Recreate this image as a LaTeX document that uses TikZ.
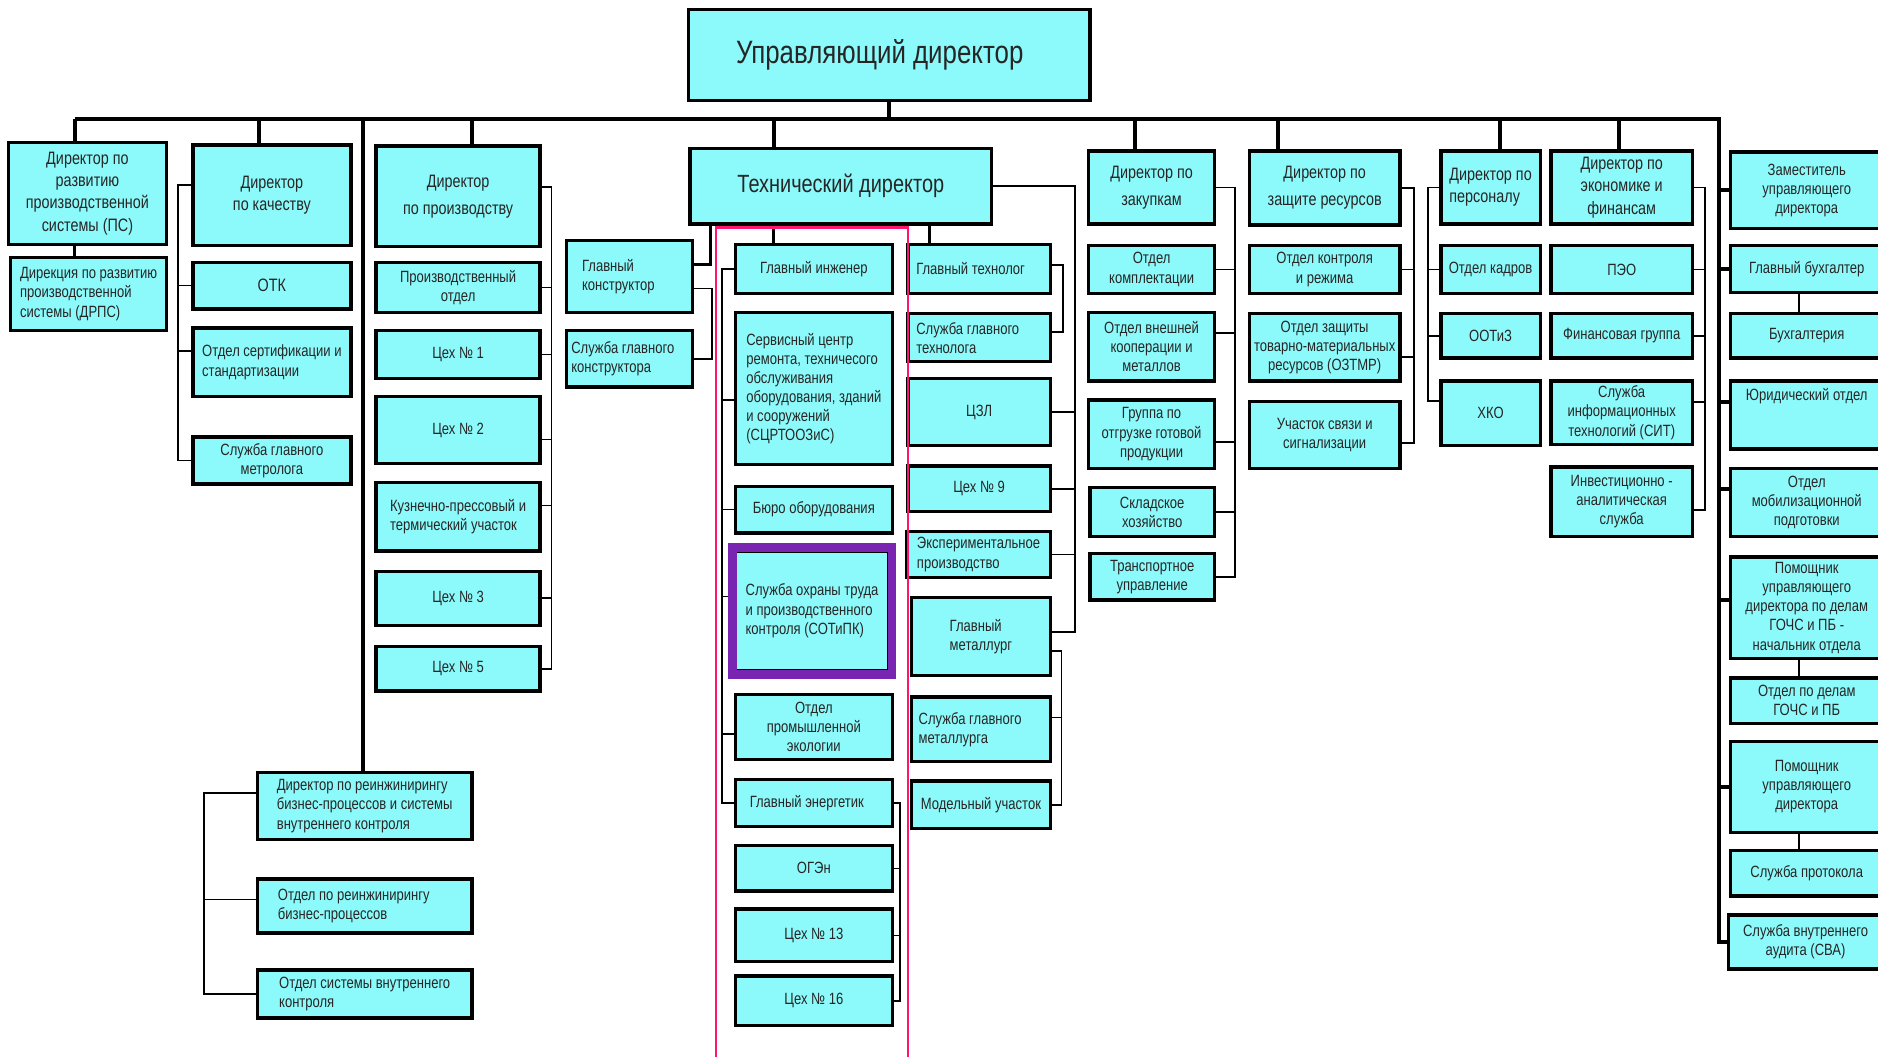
\documentclass[tikz,border=0pt]{standalone}
\usepackage{fontspec}
\newfontfamily\orgfont{Liberation Sans}[FakeStretch=0.8]
\newcommand{\orgsmall}{\orgfont\fontsize{6.8}{8}\selectfont}
\newcommand{\orgmid}{\orgfont\fontsize{7.5}{9.3}\selectfont}
\newcommand{\orgtech}{\orgfont\fontsize{10.4}{12}\selectfont}
\newcommand{\orghead}{\orgfont\fontsize{13.5}{16}\selectfont}
\definecolor{unitcyan}{RGB}{140,250,250}
\definecolor{framepink}{RGB}{255,20,110}
\definecolor{framepurple}{RGB}{122,36,178}
\tikzset{
  unit/.style={draw=black, fill=unitcyan, line width=1.4pt, inner sep=1pt,
    align=center, text=black!85, font=\orgsmall},
  chief/.style={font=\orgmid},
  flush/.style={align=flush left, text width={(\unitw-2*#1)*0.5pt}},
  bus/.style={line width=1.7pt},
  link/.style={line width=1.1pt},
  branch/.style={line width=0.7pt},
}
% box from (x1,y1) to (x2,y2)
\newcommand{\unitat}[7][]{%
  \def\unitw{(#5-#3)}%
  \node[unit, minimum width={(#5-#3)*0.5pt}, minimum height={(#6-#4)*0.5pt}, #1]
    (#2) at ({(#3+#5)/2},{(#4+#6)/2}) {#7};}
\begin{document}
\begin{tikzpicture}[x=0.5pt,y=-0.5pt]
\clip (0,0) rectangle (1568,882);
\fill[white] (0,0) rectangle (1568,882);

% top
\unitat[font=\orghead]{ceo}{575}{8}{910}{84}{Управляющий директор\hspace{8pt}}

% development of the production system
\unitat[chief]{ps}{7}{119}{139}{204}{Директор по\\развитию\\производственной\\системы (ПС)}
\unitat[align=left]{drps}{9}{215}{139}{276}{Дирекция по развитию\\производственной\\системы (ДРПС)}

% quality
\unitat[chief]{qd}{161}{121}{293}{205}{Директор\\по качеству}
\unitat[chief]{otk}{161}{219}{293}{258}{ОТК}
\unitat[align=left]{cert}{161}{274}{293}{331}{Отдел сертификации и\\стандартизации}
\unitat{metr}{161}{365}{293}{404}{Служба главного\\метролога}

% production
\unitat[chief]{prd}{314}{122}{451}{206}{Директор\\[2pt]по производству}
\unitat{pdept}{314}{219}{451}{261}{Производственный\\отдел}
\unitat{shop1}{314}{276}{451}{316}{Цех № 1}
\unitat{shop2}{314}{331}{451}{387}{Цех № 2}
\unitat[align=left]{forge}{314}{403}{451}{460}{Кузнечно-прессовый и\\термический участок}
\unitat{shop3}{314}{477}{451}{522}{Цех № 3}
\unitat{shop5}{314}{540}{451}{577}{Цех № 5}

% reengineering
\unitat[align=left]{rdir}{215}{645}{394}{701}{Директор по реинжинирингу\\бизнес-процессов и системы\\внутреннего контроля}
\unitat[flush=17]{rdept}{215}{734}{394}{779}{Отдел по реинжинирингу\\бизнес-процессов}
\unitat[align=left]{rctl}{215}{810}{394}{850}{Отдел системы внутреннего\\контроля}

% technical director
\unitat[font=\orgtech]{td}{576}{124}{828}{187}{Технический директор}
\unitat[flush=13]{gk}{473}{201}{578}{261}{Главный\\конструктор}
\unitat[flush=4]{sgk}{473}{276}{578}{323}{Служба главного\\конструктора}

\unitat{gi}{614}{204}{745}{245}{Главный инженер}
\unitat[align=left]{scr}{614}{261}{745}{388}{Сервисный центр\\ремонта, техничесого\\обслуживания\\оборудования, зданий\\и сооружений\\(СЦРТООЗиС)}
\unitat{bureau}{614}{406}{745}{445}{Бюро оборудования}
\unitat[align=left]{sotipk}{614}{460}{742}{560}{Служба охраны труда\\и производственного\\контроля (СОТиПК)}
\unitat{ecol}{614}{580}{745}{634}{Отдел\\промышленной\\экологии}
\unitat[flush=12]{gen}{614}{651}{745}{690}{Главный энергетик}
\unitat{ogen}{614}{706}{745}{744}{ОГЭн}
\unitat{shop13}{614}{759}{745}{803}{Цех № 13}
\unitat{shop16}{614}{815}{745}{856}{Цех № 16}

\unitat[flush=7]{gtech}{758}{204}{877}{245}{Главный технолог}
\unitat[flush=7]{sgtech}{758}{262}{877}{302}{Служба главного\\технолога}
\unitat{czl}{758}{316}{877}{372}{ЦЗЛ}
\unitat{shop9}{758}{389}{877}{427}{Цех № 9}
\unitat[align=left]{exper}{757}{444}{877}{482}{Экспериментальное\\производство}
\unitat[align=left]{gmet}{761}{499}{877}{564}{Главный\\металлург}
\unitat[flush=6]{sgmet}{761}{582}{877}{636}{Служба главного\\металлурга}
\unitat{model}{761}{652}{877}{692}{Модельный участок}

% purchasing
\unitat[chief]{pur}{909}{126}{1014}{187}{Директор по\\[2pt]закупкам}
\unitat{kompl}{909}{205}{1014}{245}{Отдел\\комплектации}
\unitat{coop}{909}{261}{1014}{318}{Отдел внешней\\кооперации и\\металлов}
\unitat{ship}{909}{334}{1014}{391}{Группа по\\отгрузке готовой\\продукции}
\unitat{store}{910}{407}{1014}{448}{Складское\\хозяйство}
\unitat{trans}{910}{462}{1014}{501}{Транспортное\\управление}

% resources
\unitat[chief]{res}{1043}{126}{1169}{188}{Директор по\\[2pt]защите ресурсов}
\unitat{ctrl}{1043}{205}{1169}{245}{Отдел контроля\\и режима}
\unitat{ozt}{1043}{262}{1169}{318}{Отдел защиты\\товарно-материальных\\ресурсов (ОЗТМР)}
\unitat{sig}{1043}{335}{1169}{391}{Участок связи и\\сигнализации}

% personnel
\unitat[chief,align=left]{hr}{1203}{126}{1286}{187}{Директор по\\персоналу}
\unitat{kadr}{1203}{205}{1286}{245}{Отдел кадров}
\unitat{ootiz}{1203}{262}{1286}{299}{ООТиЗ}
\unitat{hko}{1203}{318}{1286}{372}{ХКО}

% economics
\unitat[chief]{eco}{1295}{126}{1413}{187}{Директор по\\экономике и\\финансам}
\unitat{peo}{1295}{205}{1413}{245}{ПЭО}
\unitat{fin}{1295}{262}{1413}{299}{Финансовая группа}
\unitat{sit}{1295}{318}{1413}{371}{Служба\\информационных\\технологий (СИТ)}
\unitat{inv}{1295}{390}{1413}{448}{Инвестиционно -\\аналитическая\\служба}

% right column
\unitat{dep}{1445}{127}{1572}{191}{Заместитель\\управляющего\\директора}
\unitat{acc}{1445}{205}{1572}{244}{Главный бухгалтер}
\unitat{book}{1445}{262}{1572}{299}{Бухгалтерия}
\unitat{law}{1445}{318}{1572}{375}{Юридический отдел\\[9pt]}
\unitat{mob}{1445}{391}{1572}{448}{Отдел\\мобилизационной\\подготовки}
\unitat{gochs}{1445}{465}{1572}{550}{Помощник\\управляющего\\директора по делам\\ГОЧС и ПБ -\\начальник отдела}
\unitat{gochsd}{1445}{566}{1572}{604}{Отдел по делам\\ГОЧС и ПБ}
\unitat{asst}{1445}{619}{1572}{695}{Помощник\\управляющего\\директора}
\unitat{proto}{1445}{710}{1572}{748}{Служба протокола}
\unitat{audit}{1443}{764}{1572}{809}{Служба внутреннего\\аудита (СВА)}

% main bus
\coordinate (rtap) at (1435,99);
\foreach \tapname/\boss/\tapx in {pstap/ps/63, qtap/qd/216, reetap/rdir/303,
    prtap/prd/394, tdtap/td/646, purtap/pur/948, restap/res/1067,
    hrtap/hr/1252, ecotap/eco/1352}{
  \coordinate (\tapname) at (\tapx,99);
  \draw[bus] (\tapname) -- (\tapname |- \boss.north);
}
\draw[bus] (pstap) -- (rtap) |- (audit.west);
\draw[bus] (ceo.south) -- (ceo.south |- rtap);
\draw[bus] (dep.west) -- ++(-10,0)
  (acc.west) -- ++(-10,0)
  ([yshift=5.5pt]law.west) -- ++(-10,0)
  ([yshift=5.5pt]mob.west) -- ++(-10,0)
  ([yshift=3.25pt]gochs.west) -- ++(-10,0)
  (asst.west) -- ++(-10,0);
\draw[link] ([xshift=-3.25pt]acc.south) -- ([xshift=-3.25pt]book.north);
\draw[link] ([xshift=-3.25pt]gochs.south) -- ([xshift=-3.25pt]gochsd.north);
\draw[link] ([xshift=-3.25pt]asst.south) -- ([xshift=-3.25pt]proto.north);

% left side
\draw[link] ([xshift=-5.5pt]ps.south) -- ([xshift=-5.5pt]ps.south |- drps.north);
\draw[branch] ([yshift=4.25pt]qd.west) -- ++(-11,0) |- (metr.west)
  (otk.west) -- ++(-11,0)
  ([yshift=4.75pt]cert.west) -- ++(-11,0);
\draw[branch] ([yshift=4pt]prd.east) -- ++(8,0) |- (shop5.east)
  (pdept.east) -- ++(8,0)
  (shop1.east) -- ++(8,0)
  ([yshift=-4pt]shop2.east) -- ++(8,0)
  ([yshift=4.75pt]forge.east) -- ++(8,0)
  (shop3.east) -- ++(8,0);
\draw[branch] ([yshift=5.5pt]rdir.west) -- ++(-43,0) |- (rctl.west)
  ([yshift=2.75pt]rdept.west) -- ++(-43,0);

% technical director
\draw[link] (tdtap |- td.south) -- (tdtap |- gi.north);
\draw[link] ([xshift=-20.75pt]gtech.north) -- ([xshift=-20.75pt]gtech.north |- td.south);
\draw[link] ([yshift=5pt]gk.east) -| ([xshift=-54.5pt]td.south);
\draw[branch] ([yshift=-5pt]gk.east) -- ++(15,0) |- (sgk.east);
\draw[branch] (gi.west) -- ++(-10,0) |- (gen.west)
  ([yshift=-4.75pt]scr.west) -- ++(-10,0)
  (bureau.west) -- ++(-10,0)
  ([yshift=6pt]sotipk.west) -- ++(-10,0)
  ([yshift=-3pt]ecol.west) -- ++(-10,0);
\draw[branch] (gen.east) -- ++(5,0) |- (shop16.east)
  (ogen.east) -- ++(5,0)
  (shop13.east) -- ++(5,0);
\draw[branch] (td.east) -- ++(68,0) |- ([yshift=2pt]gmet.east)
  (czl.east) -- ++(19,0)
  (shop9.east) -- ++(19,0)
  (exper.east) -- ++(19,0);
\draw[branch] ([yshift=1.5pt]gtech.east) -- ++(9,0) |- ([yshift=2.5pt]sgtech.east);
\draw[branch] ([yshift=-6pt]gmet.east) -- ++(8,0) |- (model.east)
  ([yshift=5pt]sgmet.east) -- ++(8,0);

% other directors
\draw[branch] (pur.east) -- ++(15.5,0) |- (trans.east)
  (kompl.east) -- ++(15.5,0)
  ([yshift=5.75pt]coop.east) -- ++(15.5,0)
  ([yshift=-3.25pt]ship.east) -- ++(15.5,0)
  (store.east) -- ++(15.5,0);
\draw[branch] (res.east) -- ++(10,0) |- ([yshift=-3.5pt]sig.east)
  (ctrl.east) -- ++(10,0)
  ([yshift=-4pt]ozt.east) -- ++(10,0);
\draw[branch] (hr.west) -- ++(-9.5,0) |- ([yshift=5pt]hko.west)
  (kadr.west) -- ++(-9.5,0)
  (ootiz.west) -- ++(-9.5,0);
\draw[branch] (eco.east) -- ++(9,0) |- ([yshift=-3.5pt]inv.east)
  (peo.east) -- ++(9,0)
  (fin.east) -- ++(9,0)
  ([yshift=4.5pt]sit.east) -- ++(9,0);

% highlight frames
\draw[framepink, line width=1pt] (598,900) -- (598,190) -- (758,190) -- (758,900);
\draw[framepurple, line width=3.5pt] (611.5,457) rectangle (745,563);
\end{tikzpicture}
\end{document}
